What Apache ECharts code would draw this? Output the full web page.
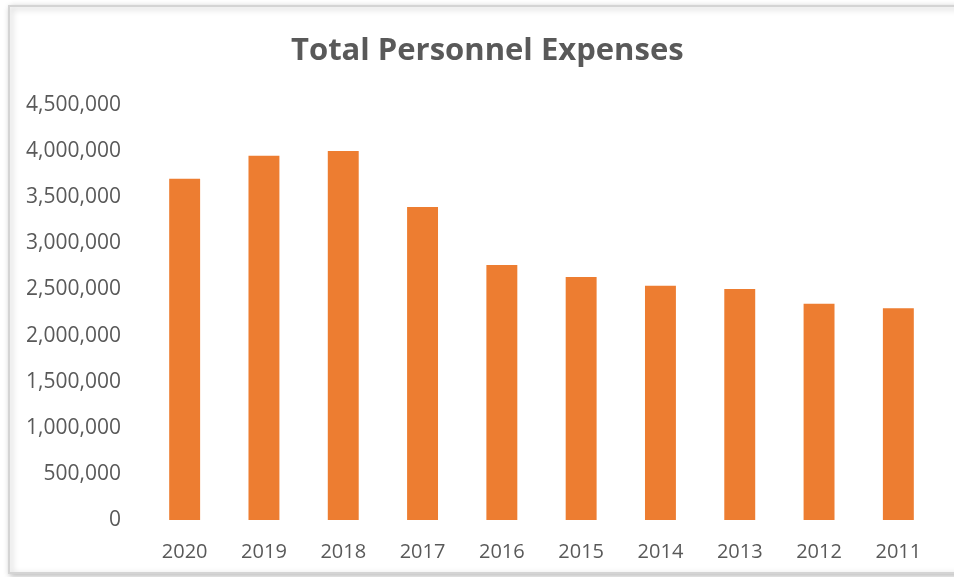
<!DOCTYPE html>
<html>
<head>
<meta charset="utf-8">
<script src="https://cdn.jsdelivr.net/npm/echarts@6/dist/echarts.min.js"></script>
<style>
  html, body { margin: 0; padding: 0; background: #fff; }
  #container { width: 954px; height: 577px; }
</style>
</head>
<body>
<div id="container"></div>
<script>
var years = ['2020', '2019', '2018', '2017', '2016', '2015', '2014', '2013', '2012', '2011'];
var expenses = [3700000, 3950000, 4000000, 3395000, 2765000, 2635000, 2540000, 2505000, 2345000, 2295000];

var dom = document.getElementById('container');
var myChart = echarts.init(dom);

var option = {
    backgroundColor: '#fff',
    textStyle: { fontFamily: 'Open Sans' },
    graphic: [{
        type: 'rect',
        left: 8,
        top: 5,
        z: -10,
        shape: { width: 1000, height: 567 },
        style: {
            fill: '#fff',
            stroke: '#d4d4d4',
            lineWidth: 2,
            shadowBlur: 6,
            shadowOffsetX: 2,
            shadowOffsetY: 2,
            shadowColor: 'rgba(0,0,0,0.25)'
        }
    }],
    title: {
        text: 'Total Personnel Expenses',
        left: 286,
        top: 31,
        textStyle: {
            fontFamily: 'Open Sans',
            fontSize: 31,
            fontWeight: 'bold',
            color: '#595959'
        }
    },
    grid: {
        left: 145,
        right: 16,
        top: 105,
        bottom: 57,
        containLabel: false
    },
    xAxis: {
        type: 'category',
        data: years,
        axisLine: { show: false },
        axisTick: { show: false },
        axisLabel: {
            color: '#595959',
            fontSize: 20,
            margin: 22
        }
    },
    yAxis: {
        type: 'value',
        min: 0,
        max: 4500000,
        interval: 500000,
        axisLine: { show: false },
        axisTick: { show: false },
        splitLine: { show: false },
        axisLabel: {
            color: '#595959',
            fontSize: 21,
            margin: 24,
            formatter: function (v) {
                return v.toLocaleString('en-US');
            }
        }
    },
    series: [{
        type: 'bar',
        data: expenses,
        barWidth: '39%',
        itemStyle: { color: '#ED7D31' }
    }]
};

myChart.setOption(option, true);
</script>
</body>
</html>
